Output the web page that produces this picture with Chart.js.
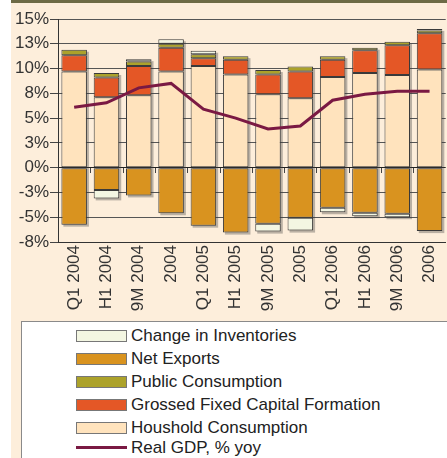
<!DOCTYPE html>
<html>
<head>
<meta charset="utf-8">
<script src="https://cdn.jsdelivr.net/npm/chart.js@4"></script>
<style>
  html, body { margin: 0; padding: 0; background: #fff; overflow: hidden; }
  body { width: 447px; height: 458px; position: relative; font-family: "Liberation Sans", Arial, sans-serif; }
  #panel { position: absolute; left: 11px; top: 0; width: 460px; height: 458px; background: #fdeedb; border-top: 3px solid #6d6a45; }
  #chartBox { position: absolute; left: 0; top: 0; }
  #legend { position: absolute; left: 10px; top: 318px; width: 460px; height: 200px; background: #fff; border: 1px solid #8a8a8a; box-sizing: border-box; padding-top: 2px; }
  .row { display: flex; align-items: center; height: 23px; font-size: 17px; color: #222; }
  .sw { width: 49px; height: 10px; margin-left: 54px; margin-right: 4px; border: 1px solid #777; }
  .ln { width: 51px; height: 3px; margin-left: 54px; margin-right: 4px; }
</style>
</head>
<body>
<div id="panel">
  <div id="chartBox"><canvas id="chart" width="442" height="318"></canvas></div>
  <div id="legend"></div>
</div>
<script>
const categories = ["Q1 2004", "H1 2004", "9M 2004", "2004", "Q1 2005", "H1 2005", "9M 2005", "2005", "Q1 2006", "H1 2006", "9M 2006", "2006"];
const household = [9.7, 7.1, 7.3, 9.7, 10.25, 9.4, 7.4, 7.0, 9.15, 9.55, 9.35, 9.9];
const grossCapital = [1.65, 2.0, 2.95, 2.4, 0.8, 1.5, 2.0, 2.7, 1.75, 2.3, 3.0, 3.65];
const publicCons = [0.55, 0.45, 0.45, 0.4, 0.4, 0.35, 0.45, 0.5, 0.35, 0.25, 0.35, 0.3];
const netExports = [-5.75, -2.25, -2.8, -4.6, -5.85, -6.55, -5.65, -5.05, -4.05, -4.55, -4.65, -6.4];
const inventories = [0, -0.85, 0.25, 0.45, 0.35, 0, -0.8, -1.3, -0.45, -0.35, -0.35, 0.15];
const realGdp = [6.1, 6.55, 8.05, 8.5, 5.9, 5.0, 3.9, 4.2, 6.8, 7.4, 7.7, 7.7];
const yTickLabels = ["-8%", "-5%", "-3%", "0%", "3%", "5%", "8%", "10%", "13%", "15%"];

const COLORS = {
  household: "#ffe3bd",
  capital: "#e45726",
  pub: "#aca22a",
  net: "#d9931f",
  inv: "#f3f6e2",
  gdp: "#7a1943",
};
const FONT = "'Liberation Sans', Arial, sans-serif";

function bar(label, data, color) {
  return {
    type: "bar",
    label,
    data,
    backgroundColor: color,
    borderColor: "#3a3a3a",
    borderWidth: 1,
    borderSkipped: false,
    barPercentage: 0.79,
    categoryPercentage: 1,
    order: 1,
  };
}

// gray drop shadow behind each whole stack + small ticks on the zero line
const decor = {
  id: "decor",
  beforeDatasetsDraw(chart) {
    const ctx = chart.ctx;
    const y = chart.scales.y;
    const x = chart.scales.x;
    const metaBars = chart.getDatasetMeta(0).data;
    ctx.save();
    ctx.fillStyle = "rgba(60,60,60,0.35)";
    for (let i = 0; i < categories.length; i++) {
      let pos = 0, neg = 0;
      chart.data.datasets.forEach((ds) => {
        if (ds.type !== "bar") return;
        const v = ds.data[i];
        if (v > 0) pos += v; else neg += v;
      });
      const el = metaBars[i];
      const left = el.x - el.width / 2;
      const top = y.getPixelForValue(pos);
      const bottom = y.getPixelForValue(neg);
      ctx.fillRect(left + 2, top + 2, el.width, bottom - top);
    }
    ctx.strokeStyle = "#444";
    ctx.lineWidth = 1;
    const y0 = Math.round(y.getPixelForValue(0));
    for (let i = 1; i < categories.length; i++) {
      const xb = Math.round((x.getPixelForValue(i - 1) + x.getPixelForValue(i)) / 2) + 0.5;
      ctx.beginPath();
      ctx.moveTo(xb, y0);
      ctx.lineTo(xb, y0 + 5);
      ctx.stroke();
    }
    ctx.restore();
  },
};

const datasets = [
  {
    type: "line",
    label: "Real GDP, % yoy",
    data: realGdp,
    borderColor: COLORS.gdp,
    borderWidth: 3,
    pointRadius: 0,
    tension: 0,
    stack: "gdp",
    order: 0,
  },
  bar("Houshold Consumption", household, COLORS.household),
  bar("Grossed Fixed Capital Formation", grossCapital, COLORS.capital),
  bar("Public Consumption", publicCons, COLORS.pub),
  bar("Net Exports", netExports, COLORS.net),
  bar("Change in Inventories", inventories, COLORS.inv),
];
// the shadow plugin reads bar geometry from the first bar dataset
datasets.push(datasets.shift());

new Chart(document.getElementById("chart"), {
  data: { labels: categories, datasets },
  options: {
    responsive: false,
    animation: false,
    devicePixelRatio: 1,
    layout: { padding: { top: 16, right: 1, left: 0, bottom: 0 } },
    plugins: { legend: { display: false }, tooltip: { enabled: false } },
    scales: {
      x: {
        stacked: true,
        grid: { display: false, drawTicks: false },
        border: { display: true, color: "#333", width: 1 },
        ticks: {
          color: "#333",
          font: { family: FONT, size: 17 },
          minRotation: 90,
          maxRotation: 90,
          autoSkip: false,
          padding: 3,
        },
        afterFit: (s) => { s.height = 79; },
      },
      y: {
        stacked: true,
        min: -7.5,
        max: 15,
        grid: {
          color: (c) => (c.tick && c.tick.value === 0 ? "#222" : "#555"),
          lineWidth: 1,
          tickLength: 8,
          tickColor: "#444",
        },
        border: { display: true, color: "#333", width: 1 },
        ticks: {
          stepSize: 2.5,
          color: "#333",
          padding: 1,
          font: { family: FONT, size: 17 },
          callback: (v, i) => yTickLabels[i],
        },
        afterFit: (s) => { s.width = 47; },
      },
    },
  },
  plugins: [decor],
});

// legend in the white box below the plot
const legendOrder = [
  ["Change in Inventories", COLORS.inv, "box"],
  ["Net Exports", COLORS.net, "box"],
  ["Public Consumption", COLORS.pub, "box"],
  ["Grossed Fixed Capital Formation", COLORS.capital, "box"],
  ["Houshold Consumption", COLORS.household, "box"],
  ["Real GDP, % yoy", COLORS.gdp, "line"],
];
const legendEl = document.getElementById("legend");
for (const [label, color, kind] of legendOrder) {
  const row = document.createElement("div");
  row.className = "row";
  if (kind === "line") row.style.marginTop = "-3px";
  row.innerHTML = `<div class="${kind === "line" ? "ln" : "sw"}" style="background:${color}"></div><span>${label}</span>`;
  legendEl.appendChild(row);
}
</script>
</body>
</html>
